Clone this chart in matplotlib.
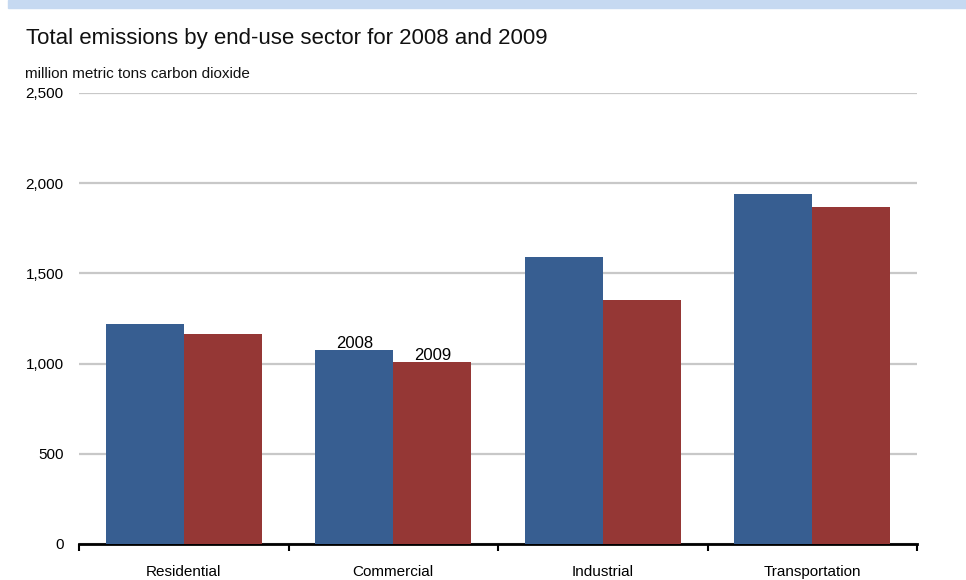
import matplotlib
matplotlib.use("Agg")
import matplotlib.pyplot as plt
import numpy as np
from matplotlib.ticker import FuncFormatter

plt.rcParams["font.family"] = ["Liberation Sans", "DejaVu Sans"]

sectors = ["Residential", "Commercial", "Industrial", "Transportation"]
years = ["2008", "2009"]
em_2008 = [1220, 1077, 1591, 1940]
em_2009 = [1164, 1011, 1354, 1868]
yticks = [0, 500, 1000, 1500, 2000, 2500]

blue = "#375E91"
red = "#953735"

fig = plt.figure(figsize=(9.66, 5.8), dpi=100)
# light blue band across the top
fig.patches.append(plt.Rectangle((0.008, 0.986), 0.992, 0.014, transform=fig.transFigure,
                                 color="#C6D9F1", zorder=0))

ax = fig.add_axes([0.0818, 0.0621, 0.8675, 0.7776])
x = np.arange(len(sectors))
w = 0.373
ax.bar(x - w / 2, em_2008, w, color=blue, zorder=3)
ax.bar(x + w / 2, em_2009, w, color=red, zorder=3)

# year labels on the Commercial pair only
ax.annotate(years[0], (x[1] - w / 2, em_2008[1]), ha="center", va="bottom",
            fontsize=12, xytext=(0, -1), textcoords="offset points")
ax.annotate(years[1], (x[1] + w / 2, em_2009[1]), ha="center", va="bottom",
            fontsize=12, xytext=(0, -1), textcoords="offset points")

ax.set_xlim(-0.5, len(sectors) - 0.5)
ax.set_ylim(0, 2500)
ax.set_yticks(yticks)
ax.yaxis.set_major_formatter(FuncFormatter(lambda v, p: f"{int(v):,}"))
ax.yaxis.grid(True, color="#C8C8C8", lw=1.6)
ax.set_axisbelow(True)

ax.set_xticks(x)
ax.set_xticklabels(sectors, fontsize=11)
ax.set_xticks(np.arange(len(sectors) + 1) - 0.5, minor=True)
ax.tick_params(axis="x", which="major", length=0, pad=15)
ax.tick_params(axis="x", which="minor", length=5, width=1.5, direction="out", color="black")
ax.tick_params(axis="y", length=0, pad=11, labelsize=11)

for s in ["top", "right", "left"]:
    ax.spines[s].set_visible(False)
ax.spines["bottom"].set_linewidth(2)
ax.spines["bottom"].set_color("black")

fig.text(0.027, 0.933, "Total emissions by end-use sector for 2008 and 2009",
         fontsize=16, va="center", ha="left", color="#111111")
fig.text(0.026, 0.873, "million metric tons carbon dioxide",
         fontsize=11, va="center", ha="left", color="#111111")

fig.savefig("out.png", dpi=100)
